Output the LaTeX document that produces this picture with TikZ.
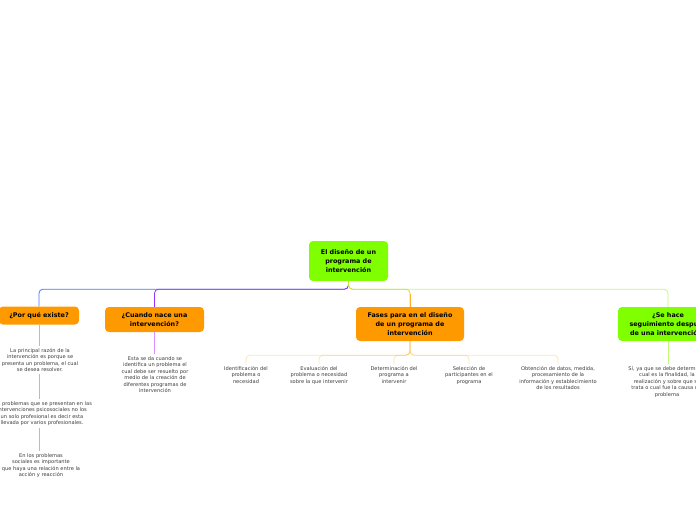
\documentclass[tikz,border=0pt]{standalone}
\usepackage{fontspec}
\setmainfont{DejaVu Sans}
\definecolor{rootgrn}{RGB}{128,255,0}
\definecolor{boxorg}{RGB}{255,153,0}
\definecolor{lnblue}{RGB}{70,120,255}
\definecolor{lnsky}{RGB}{160,188,255}
\definecolor{lnpurp}{RGB}{150,50,255}
\definecolor{lnpink}{RGB}{225,140,255}
\definecolor{lnlime}{RGB}{190,250,120}
\definecolor{lnyel}{RGB}{200,225,60}
\definecolor{lnorg}{RGB}{255,176,40}
\definecolor{txtgry}{RGB}{60,60,60}

\begin{document}
\begin{tikzpicture}[x=1pt, y=-1pt,
  topic/.style={rounded corners=4pt, align=center, inner sep=0pt,
                font=\fontsize{6.4}{9}\selectfont\bfseries},
  note/.style={align=center, text=txtgry, inner sep=2pt,
               font=\fontsize{5.1}{6.5}\selectfont},
  link/.style={line width=0.8pt, rounded corners=4pt}]
  \useasboundingbox (0,0) rectangle (696,520);
  \clip (0,0) rectangle (696,520);

  % main topic and the four branches
  \node[topic, fill=rootgrn, minimum width=79pt, minimum height=40pt] (root) at (348.5,261)
       {El diseño de un\\programa de\\intervención};
  \node[topic, fill=boxorg, minimum width=80pt, minimum height=18pt] (porque) at (39,315.5)
       {¿Por qué existe?};
  \node[topic, fill=boxorg, minimum width=99pt, minimum height=25pt] (cuando) at (154.5,319.5)
       {¿Cuando nace una\\intervención?};
  \node[topic, fill=boxorg, minimum width=108pt, minimum height=34pt] (fases) at (410,324)
       {Fases para en el diseño\\de un programa de\\intervención};
  \node[topic, fill=rootgrn, minimum width=100pt, minimum height=34pt] (sehace) at (668,324)
       {¿Se hace\\seguimiento después\\de una intervención?};

  \draw[link, lnblue] (root.south) -- ++(0,8) -| (porque.north);
  \draw[link, lnpurp] (root.south) -- ++(0,8) -| (cuando.north);
  \draw[link, lnlime] (root.south) -- ++(0,8) -| (sehace.north);
  \draw[link, lnyel] (root.south) -- ++(0,8) -| (fases.north);
  \draw[link, lnorg] (fases.north) -- ++(0,-13);

  % por que existe
  \node[note, anchor=north] (pq1) at (40,346)
       {La principal razón de la\\intervención es porque se\\presenta un problema, el cual\\se desea resolver.};
  \node[note, anchor=north] (pq2) at (42,399)
       {Los problemas que se presentan en las\\intervenciones psicosociales no los\\un solo profesional es decir esta\\llevada por varios profesionales.};
  \node[note, anchor=north] (pq3) at (41,451)
       {En los problemas\\sociales es importante\\que haya una relación entre la\\acción y reacción};
  \draw[link, lnsky] (porque.south) -- (pq1.north -| porque.south);
  \draw[link, lnsky] (pq1.south -| porque.south) -- (pq2.north -| porque.south);
  \draw[link, lnsky] (pq2.south -| porque.south) -- (pq3.north -| porque.south);

  % cuando nace
  \node[note, anchor=north] (cn1) at (155,354)
       {Esta se da cuando se\\identifica un problema el\\cual debe ser resuelto por\\medio de la creación de\\diferentes programas de\\intervención};
  \draw[link, lnpink] (cuando.south) -- (cn1.north -| cuando.south);

  % fases
  \foreach \cx/\nm/\txt in {
      246/fa/{Identificación del\\problema o\\necesidad},
      319/fb/{Evaluación del\\problema o necesidad\\sobre la que intervenir},
      394/fc/{Determinación del\\programa a\\intervenir},
      469/fd/{Selección de\\participantes en el\\programa},
      558/fe/{Obtención de datos, medida,\\procesamiento de la\\información y establecimiento\\de los resultados}} {
    \node[note, anchor=north] (\nm) at (\cx,364) {\txt};
    \draw[link, lnorg, opacity=0.35] (fases.south) -- ++(0,14) -| (\nm.north);
  }

  % seguimiento
  \node[note, anchor=north] (sh1) at (667,364)
       {Sí, ya que se debe determinar\\cual es la finalidad, la\\realización y sobre que se\\trata o cual fue la causa del\\problema};
  \draw[link, lnlime] (sehace.south) -- (sh1.north -| sehace.south);
\end{tikzpicture}
\end{document}
